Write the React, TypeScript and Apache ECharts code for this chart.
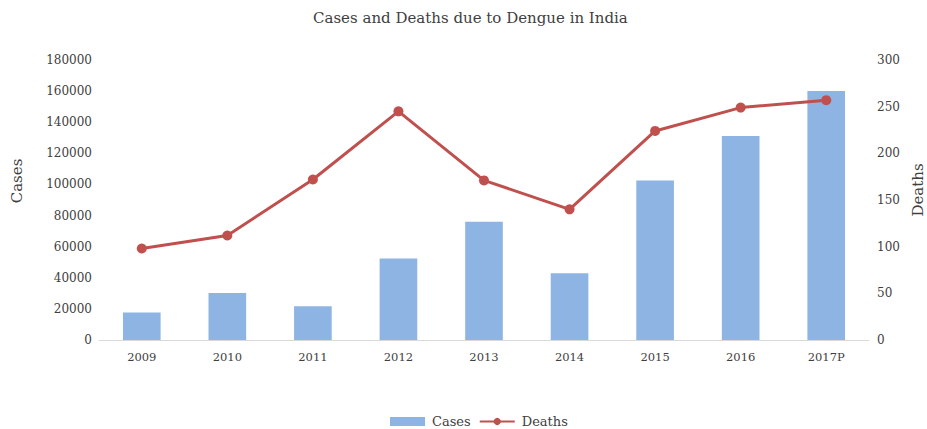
import React, { useEffect, useRef } from "react";
import * as echarts from "echarts";

const categories = ["2009", "2010", "2011", "2012", "2013", "2014", "2015", "2016", "2017P"];
const cases = [17600, 30200, 21700, 52400, 76000, 42900, 102500, 131200, 160100];
const deaths = [98, 112, 172, 245, 171, 140, 224, 249, 257];

const FONT = "'DejaVu Serif', 'Liberation Serif', serif";
const TXT = "#404040";

export default function App() {
  const ref = useRef<HTMLDivElement>(null);
  useEffect(() => {
    if (!ref.current) return;
    const chart = echarts.init(ref.current, undefined, { renderer: "svg" });
    chart.setOption({
      animation: false,
      backgroundColor: "#ffffff",
      textStyle: { fontFamily: FONT },
      title: {
        text: "Cases and Deaths due to Dengue in India",
        left: 308,
        top: 5,
        textStyle: { fontFamily: FONT, fontSize: 15, fontWeight: "normal", color: TXT },
      },
      grid: { left: 99, right: 58, top: 60, bottom: 89 },
      legend: {
        top: 415,
        left: 390,
        padding: 0,
        itemGap: 8,
        itemWidth: 35,
        itemHeight: 9,
        textStyle: { fontFamily: FONT, fontSize: 13, color: TXT, padding: [0, 0, 0, 2] },
        data: [
          { name: "Cases", icon: "rect" },
          { name: "Deaths" },
        ],
      },
      xAxis: {
        type: "category",
        data: categories,
        axisTick: { show: false },
        axisLine: { lineStyle: { color: "#d9d9d9", width: 1 } },
        axisLabel: { fontFamily: FONT, fontSize: 11.5, color: TXT, margin: 11 },
      },
      yAxis: [
        {
          type: "value",
          min: 0,
          max: 180000,
          interval: 20000,
          splitLine: { show: false },
          axisLine: { show: false },
          axisTick: { show: false },
          axisLabel: {
            fontFamily: FONT,
            fontSize: 12,
            color: TXT,
            margin: 7,
            formatter: (v: number) => String(v),
          },
        },
        {
          type: "value",
          min: 0,
          max: 300,
          interval: 50,
          splitLine: { show: false },
          axisLine: { show: false },
          axisTick: { show: false },
          axisLabel: { fontFamily: FONT, fontSize: 12, color: TXT, margin: 8 },
        },
      ],
      graphic: [
        {
          type: "text",
          x: 17,
          y: 181,
          rotation: Math.PI / 2,
          style: {
            text: "Cases",
            fontFamily: FONT,
            fontSize: 15,
            fill: TXT,
            align: "center",
            verticalAlign: "middle",
          },
        },
        {
          type: "text",
          x: 918,
          y: 190,
          rotation: Math.PI / 2,
          style: {
            text: "Deaths",
            fontFamily: FONT,
            fontSize: 15,
            fill: TXT,
            align: "center",
            verticalAlign: "middle",
          },
        },
      ],
      series: [
        {
          name: "Cases",
          type: "bar",
          data: cases,
          yAxisIndex: 0,
          barWidth: "44%",
          itemStyle: { color: "#8db4e2" },
        },
        {
          name: "Deaths",
          type: "line",
          data: deaths,
          yAxisIndex: 1,
          symbol: "circle",
          symbolSize: 10,
          lineStyle: { color: "#c0504d", width: 3 },
          itemStyle: { color: "#c0504d" },
        },
      ],
    });
    return () => chart.dispose();
  }, []);
  return (
    <div
      ref={ref}
      style={{ position: "absolute", left: 0, top: 0, width: 927, height: 429, overflow: "hidden" }}
    />
  );
}
